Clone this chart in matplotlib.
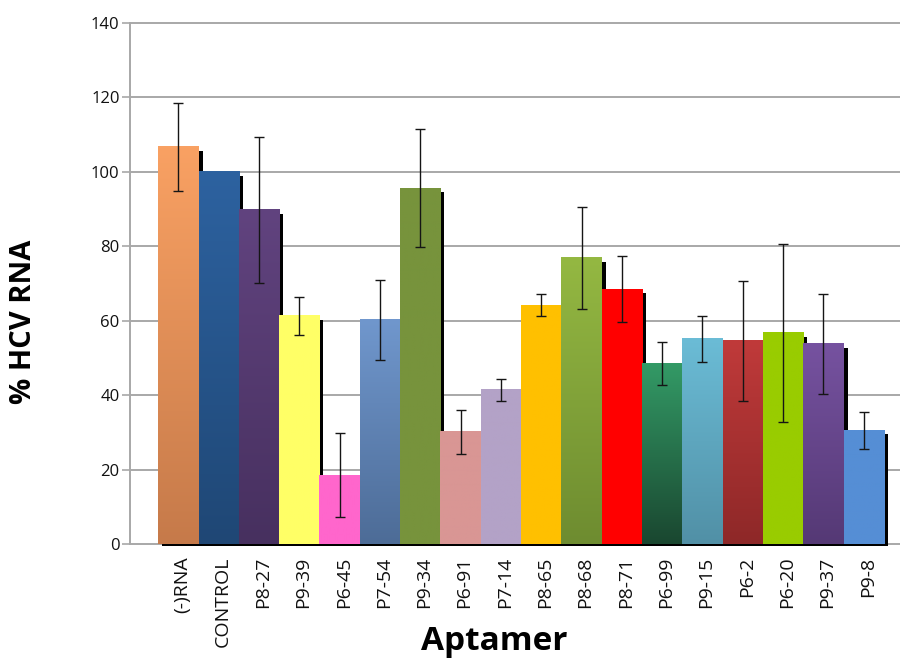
import numpy as np
import matplotlib
matplotlib.use("Agg")
import matplotlib.pyplot as plt
from matplotlib.patches import Rectangle
from matplotlib.transforms import ScaledTranslation

plt.rcParams['font.family'] = ['Open Sans', 'DejaVu Sans']

categories = ["(-)RNA", "CONTROL", "P8-27", "P9-39", "P6-45", "P7-54", "P9-34", "P6-91",
              "P7-14", "P8-65", "P8-68", "P8-71", "P6-99", "P9-15", "P6-2", "P6-20",
              "P9-37", "P9-8"]
values = [106.7, 100.0, 89.8, 61.3, 18.5, 60.2, 95.6, 30.1,
          41.4, 64.2, 76.9, 68.5, 48.4, 55.1, 54.6, 56.7, 53.8, 30.6]
errors = [11.8, 0.0, 19.7, 5.1, 11.2, 10.7, 15.8, 5.8,
          3.0, 2.9, 13.7, 8.9, 5.8, 6.2, 16.2, 23.8, 13.5, 5.0]
# top colour, bottom colour (gradient)
top_colors = ["#F9A163", "#2D62A0", "#61437F", "#FFFF66", "#FF66CC", "#7097CD", "#77933C", "#D99694",
              "#B3A2C7", "#FFC000", "#94B842", "#FF0000", "#339A66", "#6BBCD6", "#C03A3A", "#99CC00",
              "#7652A0", "#558ED5"]
bottom_colors = ["#C67A4A", "#1F4775", "#47305F", "#FFFF66", "#FF66CC", "#4D6C97", "#77933C", "#D99694",
                 "#B3A2C7", "#FFC000", "#6E8C30", "#FF0000", "#1A4730", "#5190A6", "#8E2828", "#99CC00",
                 "#553975", "#558ED5"]
yticks = [0, 20, 40, 60, 80, 100, 120, 140]

W, H = 900, 660
fig = plt.figure(figsize=(9, 6.6), dpi=100)
ax = fig.add_axes([130 / W, 1 - 544 / H, (900 - 130) / W, (544 - 23) / H])

x = np.arange(len(categories))
ax.set_xlim(-1.2, 17.9)
ax.set_ylim(0, 140)

# pixel scale
p0 = ax.transData.transform((0, 0))
p1 = ax.transData.transform((1, 1))
sx, sy = p1[0] - p0[0], p1[1] - p0[1]

grid_c = "#A8A8A8"
for t in yticks:
    ax.axhline(t, color=grid_c, lw=1.4, zorder=0.5, clip_on=False)

# shadows
for xi, v in zip(x, values):
    ax.add_patch(Rectangle((xi - 0.5 + 4 / sx, -2 / sy), 1.0, v - 4 / sy + 2 / sy,
                           facecolor="black", edgecolor="none", zorder=1, clip_on=False))

# bars (solid base) + gradient overlay
bars = ax.bar(x, values, width=1.0, color=top_colors, edgecolor="none", zorder=2)
for xi, v, ct, cb in zip(x, values, top_colors, bottom_colors):
    t = np.array(matplotlib.colors.to_rgb(ct))
    b = np.array(matplotlib.colors.to_rgb(cb))
    f = np.linspace(0, 1, 128)[:, None]
    grad = (t[None, :] * (1 - f) + b[None, :] * f)[:, None, :]
    ax.imshow(grad, extent=(xi - 0.5, xi + 0.5, 0, v), aspect="auto",
              interpolation="bilinear", zorder=2.1, origin="upper")

ax.errorbar([xi for xi, e in zip(x, errors) if e > 0],
            [v for v, e in zip(values, errors) if e > 0],
            yerr=[e for e in errors if e > 0], fmt="none", ecolor="#151515",
            elinewidth=1.0, capsize=3.5, capthick=1.0, zorder=3)

ax.set_xlim(-1.2, 17.9)
ax.set_ylim(0, 140)

for s in ["top", "right", "bottom"]:
    ax.spines[s].set_visible(False)
ax.spines["left"].set_color(grid_c)
ax.spines["left"].set_linewidth(1.4)

ax.set_yticks(yticks)
ax.set_yticklabels([str(t) for t in yticks], fontsize=12, color="#111111")
ax.tick_params(axis="y", length=6, width=1.2, color=grid_c, pad=1.5)

ax.set_xticks(x)
ax.set_xticklabels(categories, rotation=90, fontsize=14, color="#111111")
ax.tick_params(axis="x", length=0, pad=9)
off = ScaledTranslation(4 / 100, 0, fig.dpi_scale_trans)
for lab in ax.get_xticklabels():
    lab.set_transform(lab.get_transform() + off)

fig.text(24 / W, 1 - 322 / H, "% HCV RNA", rotation=90, fontsize=21, fontweight="bold",
         ha="center", va="center")
fig.text(494 / W, 1 - 642 / H, "Aptamer", fontsize=24, fontweight="bold",
         ha="center", va="center")

fig.savefig("out.png", dpi=100)
